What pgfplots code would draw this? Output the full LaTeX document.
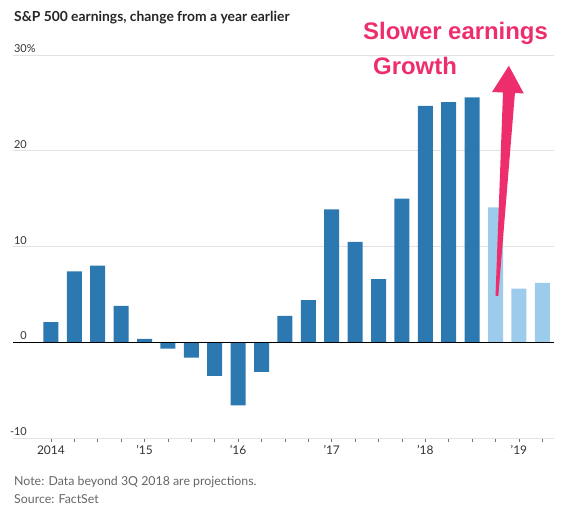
\documentclass[border=0pt]{standalone}
\usepackage{pgfplots}
\pgfplotsset{compat=1.18}
\usepackage{fontspec}
\setmainfont{Lato}
\newfontfamily\annofont{Liberation Sans}

\definecolor{darkbar}{HTML}{2C78B0}
\definecolor{lightbar}{HTML}{9CCBEC}
\definecolor{gridc}{HTML}{E2E2E2}
\definecolor{labc}{HTML}{333333}
\definecolor{notec}{HTML}{666666}
\definecolor{pinkc}{HTML}{EE2E6C}

\begin{document}
\begin{tikzpicture}
\useasboundingbox (0,0) rectangle (561bp,509bp);

\begin{axis}[
	at={(13bp,71bp)}, anchor=south west,
	x=23.4bp, y=9.57bp,
	xmin=-1.62, xmax=21.5,
	ymin=-10, ymax=30,
	axis x line*=bottom, axis y line*=left,
	x axis line style={gridc, line width=0.8bp},
	y axis line style={draw=none},
	ytick={-10,0,10,20,30},
	yticklabels={-10,0,10,20,30\rlap{\%}},
	yticklabel style={anchor=base east, inner sep=0pt, xshift=18bp, yshift=2.5bp, font=\fontsize{11}{12}\selectfont, text=labc},
	ytick style={draw=none},
	ymajorgrids, grid style={gridc, line width=0.8bp},
	xtick={0,...,21},
	xticklabels={2014,,,,’15,,,,’16,,,,’17,,,,’18,,,,’19,},
	xticklabel style={font=\fontsize{12}{13}\selectfont, text=labc},
	xtick style={black!55, line width=0.6bp},
	tick align=outside, major tick length=4bp,
	ybar, bar width=15bp,
	clip=false,
]
\addplot[fill=darkbar, draw=none, bar shift=0pt] coordinates {
	(0,2.1) (1,7.4) (2,8.0) (3,3.8) (4,0.35) (5,-0.65) (6,-1.6) (7,-3.5)
	(8,-6.6) (9,-3.1) (10,2.75) (11,4.4) (12,13.9) (13,10.5) (14,6.6)
	(15,15.0) (16,24.7) (17,25.1) (18,25.6)
};
\addplot[fill=lightbar, draw=none, bar shift=0pt] coordinates {
	(19,14.1) (20,5.6) (21,6.2)
};
\draw[black, line width=0.9bp] (axis cs:-1.62,0) -- (axis cs:21.5,0);
% tapered arrow
\fill[pinkc] (axis cs:19.0,4.84) -- (axis cs:19.32,26.1) -- (axis cs:18.85,26.15)
	-- (axis cs:19.57,28.9) -- (axis cs:20.21,26.0) -- (axis cs:19.83,26.05)
	-- (axis cs:19.12,4.84) -- cycle;
\end{axis}

% title and notes
\node[anchor=base west, inner sep=0pt, font=\bfseries\fontsize{13.9}{15}\selectfont, text=black!85]
	at (14bp,487bp) {S\&P 500 earnings, change from a year earlier};
\node[anchor=base west, inner sep=0pt, font=\fontsize{12.4}{14}\selectfont, text=notec]
	at (14bp,24bp) {Note: Data beyond 3Q 2018 are projections.};
\node[anchor=base west, inner sep=0pt, font=\fontsize{12.4}{14}\selectfont, text=notec]
	at (14bp,6bp) {Source: FactSet};

% annotation
\node[anchor=base west, inner sep=0pt, font=\annofont\bfseries\fontsize{24}{26}\selectfont, text=pinkc]
	at (363bp,469bp) {Slower earnings};
\node[anchor=base west, inner sep=0pt, font=\annofont\bfseries\fontsize{24}{26}\selectfont, text=pinkc]
	at (373bp,434bp) {Growth};
\end{tikzpicture}
\end{document}
